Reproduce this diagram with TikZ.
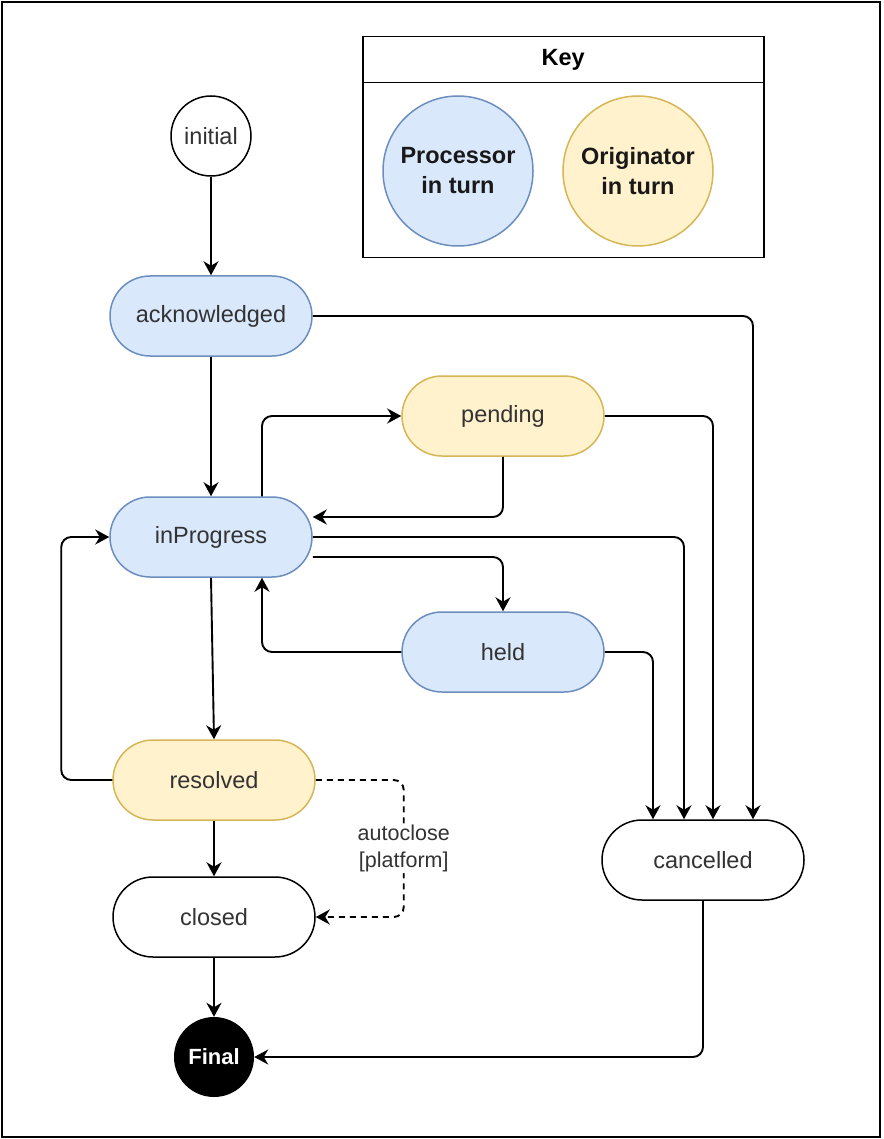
\documentclass[tikz,border=0pt]{standalone}
\usepackage{fontspec}
\setmainfont{Liberation Sans}
\usetikzlibrary{arrows.meta,calc}
\definecolor{bfill}{HTML}{DAE8FC}
\definecolor{bdraw}{HTML}{6C8EBF}
\definecolor{yfill}{HTML}{FFF2CC}
\definecolor{ydraw}{HTML}{D6B656}
\definecolor{txt}{HTML}{333333}
\begin{document}
\begin{tikzpicture}[x=1pt,y=-1pt,
  lbl/.style={font=\fontsize{23.5}{29}\selectfont, text=txt},
  state/.style={lbl, rectangle, rounded corners=40pt, minimum width=202pt, minimum height=80pt, line width=1.5pt, inner sep=0pt},
  proc/.style={state, fill=bfill, draw=bdraw},
  orig/.style={state, fill=yfill, draw=ydraw},
  plainst/.style={state, fill=white, draw=black},
  edge/.style={line width=1.9pt, -{Stealth[length=14pt,width=15pt,inset=4.5pt]}, rounded corners=10pt},
  keyc/.style={circle, minimum size=150pt, inner sep=0pt, line width=1.5pt, align=center, font=\bfseries\fontsize{23.5}{30}\selectfont, text=black!90},
]
\useasboundingbox (0,0) rectangle (883,1139);
\draw[line width=1.5pt] (2,2) rectangle (880,1137);

% key
\node[draw, line width=1.5pt, minimum width=401pt, minimum height=46pt, anchor=north west, inner sep=0pt, font=\bfseries\fontsize{23.5}{29}\selectfont] (keyhead) at (362,36) {Key};
\node[draw, line width=1.5pt, minimum width=401pt, minimum height=175pt, anchor=north west, inner sep=0pt] (keybody) at (362,82) {};
\node[keyc, fill=bfill, draw=bdraw] (kproc) at (458,171) {Processor\\in turn};
\node[keyc, fill=yfill, draw=ydraw] (korig) at (638,171) {Originator\\in turn};

% states
\node[lbl, circle, draw=black, line width=1.5pt, minimum size=80pt, inner sep=0pt, fill=white] (initial) at (211,136) {initial};
\node[proc] (ack) at (211,316) {acknowledged};
\node[orig] (pending) at (503,416) {pending};
\node[proc] (inprog) at (211,537) {inProgress};
\node[proc] (held) at (503,652) {held};
\node[orig] (resolved) at (214,780) {resolved};
\node[plainst] (closed) at (214,917) {closed};
\node[plainst] (cancelled) at (703,860) {cancelled};
\node[circle, fill=black, minimum size=80pt, inner sep=0pt, text=white, font=\bfseries\fontsize{22}{26}\selectfont] (final) at (214,1057) {Final};

% edges
\draw[edge] (initial) -- (ack);
\draw[edge] (ack) -- (inprog);
\draw[edge] ([xshift=51pt]inprog.north) |- (pending.west);
\draw[edge] (pending.south) |- ([yshift=20pt]inprog.east);
\draw[edge] ([yshift=-20pt]inprog.east) -| (held.north);
\draw[edge] (held.west) -| ([xshift=51pt]inprog.south);
\draw[edge] (inprog.south) -- (resolved.north);
\draw[edge] (resolved.west) -| ([xshift=-48pt]inprog.west) -- (inprog.west);
\draw[edge] (resolved) -- (closed);
\draw[edge, dashed, dash pattern=on 6pt off 5pt] (resolved.east) -- ++(88,0) |- node[pos=0.25, fill=white, inner sep=1pt, align=center, font=\fontsize{21.5}{27}\selectfont, text=txt] (autolbl) {autoclose\\{[}platform{]}} (closed.east);
\draw[edge] (closed) -- (final);
\draw[edge] (ack.east) -| ([xshift=50pt]cancelled.north);
\draw[edge] (pending.east) -| ([xshift=10pt]cancelled.north);
\draw[edge] (inprog.east) -| ([xshift=-19pt]cancelled.north);
\draw[edge] (held.east) -| ([xshift=-50pt]cancelled.north);
\draw[edge] (cancelled.south) |- (final.east);
\end{tikzpicture}
\end{document}
